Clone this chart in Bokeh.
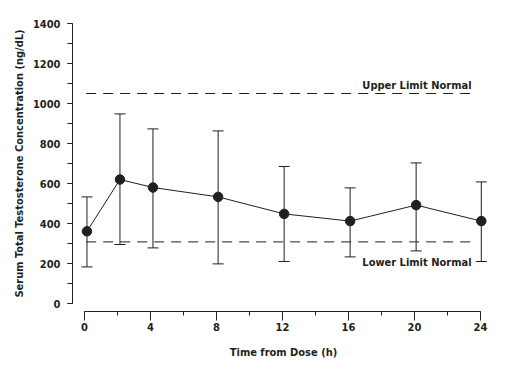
from bokeh.plotting import figure
from bokeh.models import ColumnDataSource, Whisker, TeeHead, SingleIntervalTicker, Range1d
from bokeh.core.properties import value
from bokeh.embed import file_html
from bokeh.resources import INLINE

# ---- data ----
time_h = [0.15, 2.15, 4.15, 8.1, 12.1, 16.1, 20.1, 24.05]
mean_conc = [361, 620, 580, 533, 448, 412, 492, 412]
upper_err = [533, 948, 873, 863, 685, 578, 703, 608]
lower_err = [183, 295, 278, 198, 210, 233, 263, 210]
upper_limit = 1050
lower_limit = 308
limit_span = [0.1, 23.7]
upper_label = "Upper Limit Normal"
lower_label = "Lower Limit Normal"
x_label = "Time from Dose (h)"
y_label = "Serum Total Testosterone Concentration (ng/dL)"

INK = "#231f20"
FONT = "'DejaVu Sans Condensed', 'Roboto', sans-serif"

p = figure(width=503, height=366, output_backend="svg", toolbar_location=None,
           x_range=Range1d(-0.727, 24.85), y_range=Range1d(-40, 1440),
           min_border_left=72, min_border_right=9, min_border_top=15, min_border_bottom=55)
p.outline_line_color = None
p.grid.visible = False
p.background_fill_color = "white"

src = ColumnDataSource(dict(t=time_h, m=mean_conc, up=upper_err, lo=lower_err))

# limit lines
p.line(x=limit_span, y=[upper_limit, upper_limit], line_color=INK, line_width=1, line_dash="10 7")
p.line(x=limit_span, y=[lower_limit, lower_limit], line_color=INK, line_width=1, line_dash="10 7")

p.text(x=[limit_span[1]], y=[upper_limit], text=[upper_label], text_align="right",
       text_baseline="bottom", x_offset=-4, y_offset=-2, text_font=value(FONT),
       text_font_style="bold", text_font_size="11px", text_color=INK)
p.text(x=[limit_span[1]], y=[lower_limit], text=[lower_label], text_align="right",
       text_baseline="top", x_offset=-4, y_offset=14, text_font=value(FONT),
       text_font_style="bold", text_font_size="11px", text_color=INK)

# error bars
w = Whisker(base="t", upper="up", lower="lo", source=src, line_color=INK, line_width=1,
            upper_head=TeeHead(size=11, line_color=INK, line_width=1),
            lower_head=TeeHead(size=11, line_color=INK, line_width=1))
p.add_layout(w)

p.line("t", "m", source=src, line_color=INK, line_width=1)
p.scatter("t", "m", source=src, size=9.5, fill_color=INK, line_color=INK)

# axes
xa = p.xaxis[0]
xa.ticker = SingleIntervalTicker(interval=4, num_minor_ticks=2)
xa.bounds = (0, 24)
xa.major_tick_out = 9
xa.major_tick_in = 0
xa.minor_tick_out = 4
xa.minor_tick_in = 0
xa.major_label_standoff = 2
xa.axis_label = x_label
xa.axis_label_standoff = 12

ya = p.yaxis[0]
ya.ticker = SingleIntervalTicker(interval=200, num_minor_ticks=2)
ya.bounds = (0, 1400)
ya.major_tick_out = 5
ya.major_tick_in = 0
ya.minor_tick_out = 5
ya.minor_tick_in = 0
ya.major_label_standoff = 7
ya.axis_label = y_label
ya.axis_label_standoff = 4

for ax in (xa, ya):
    ax.axis_line_color = INK
    ax.major_tick_line_color = INK
    ax.minor_tick_line_color = INK
    ax.major_label_text_font = FONT
    ax.major_label_text_font_style = "bold"
    ax.major_label_text_font_size = "11px"
    ax.major_label_text_color = INK
    ax.axis_label_text_font = FONT
    ax.axis_label_text_font_style = "bold"
    ax.axis_label_text_font_size = "11px"
    ax.axis_label_text_color = INK

open("out.html", "w").write(file_html(p, INLINE))
